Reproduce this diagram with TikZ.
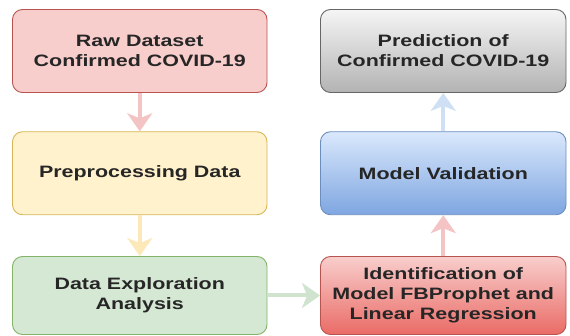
\documentclass[tikz,border=0pt]{standalone}
\usepackage{fontspec}
\setmainfont[FakeStretch=1.3]{Liberation Sans}
\usetikzlibrary{arrows.meta}
\definecolor{txt}{HTML}{262626}
\definecolor{redfill}{HTML}{F8CECC}
\definecolor{redline}{HTML}{B85450}
\definecolor{yelfill}{HTML}{FFF2CC}
\definecolor{yelline}{HTML}{D6B656}
\definecolor{grnfill}{HTML}{D5E8D4}
\definecolor{grnline}{HTML}{82B366}
\definecolor{gratop}{HTML}{F5F5F5}
\definecolor{grabot}{HTML}{B3B3B3}
\definecolor{graline}{HTML}{666666}
\definecolor{blutop}{HTML}{DAE8FC}
\definecolor{blubot}{HTML}{7EA6E0}
\definecolor{bluline}{HTML}{6C8EBF}
\definecolor{redbot}{HTML}{EA6B66}
\definecolor{arrred}{HTML}{F4C4C4}
\definecolor{arryel}{HTML}{FCE8B8}
\definecolor{arrgrn}{HTML}{CFE3CE}
\definecolor{arrblu}{HTML}{CFE0F5}
\tikzset{
  box/.style={rounded corners=10pt, line width=0.9pt, align=center, inner sep=0pt,
    font=\fontsize{16.5}{20}\selectfont\bfseries, text=txt},
  leftbox/.style={box, minimum width=254.5pt, minimum height=83pt},
  rightbox/.style={box, minimum width=245.5pt, minimum height=83pt},
  flow/.style={line width=4pt, -{Stealth[length=18pt, width=25pt, inset=5pt]}},
}
\begin{document}
\begin{tikzpicture}[x=1pt, y=-1pt]
\useasboundingbox (0,0) rectangle (570,336);
\node[leftbox, draw=redline, fill=redfill] (raw) at (139.75,51) {Raw Dataset\\Confirmed COVID-19};
\node[leftbox, draw=yelline, fill=yelfill] (pre) at (139.75,173.25) {Preprocessing Data};
\node[leftbox, draw=grnline, fill=grnfill, minimum height=78pt] (dea) at (139.75,295.5) {Data Exploration\\Analysis};
\node[rightbox, draw=graline, top color=gratop, bottom color=grabot] (pred) at (443.25,51) {Prediction of\\Confirmed COVID-19};
\node[rightbox, draw=bluline, top color=blutop, bottom color=blubot] (val) at (443.25,173.25) {Model Validation};
\node[rightbox, draw=redline, top color=redfill, bottom color=redbot, minimum height=78pt] (iden) at (443.25,295.5) {Identification of\\Model FBProphet and\\Linear Regression};
\draw[flow, arrred] (raw) -- (pre);
\draw[flow, arryel] (pre) -- (dea);
\draw[flow, arrgrn] (dea) -- (iden);
\draw[flow, arrred] (iden) -- (val);
\draw[flow, arrblu] (val) -- (pred);
\end{tikzpicture}
\end{document}
